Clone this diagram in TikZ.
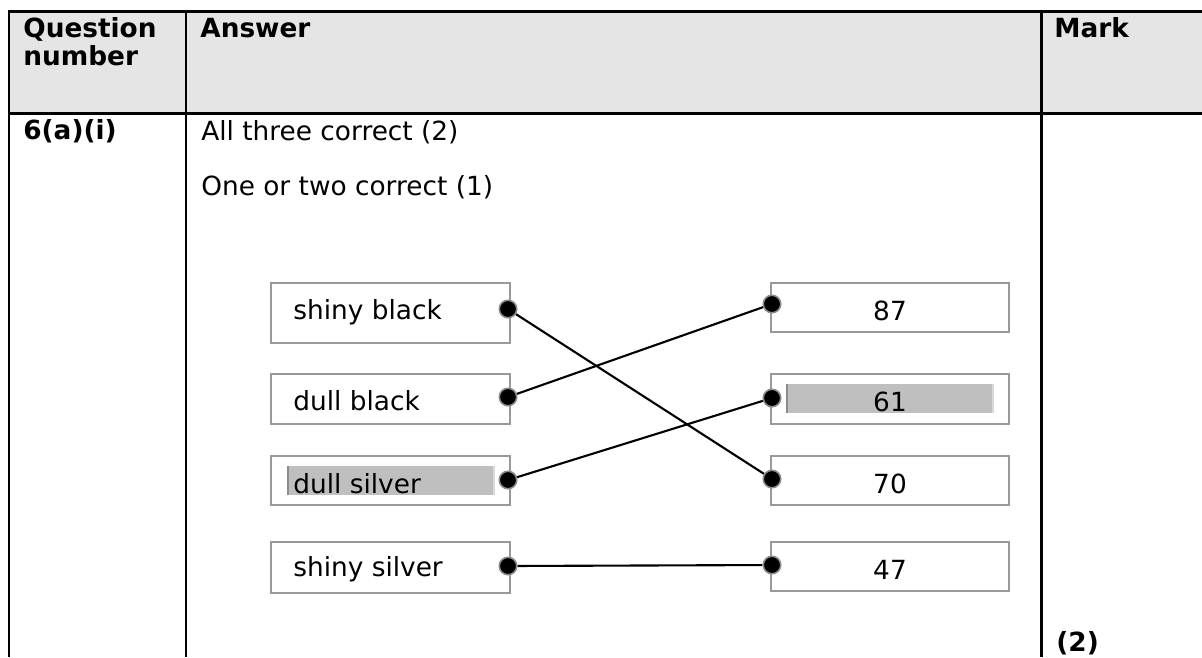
\documentclass[tikz,border=0pt]{standalone}
\usepackage{fontspec}
\setmainfont{DejaVu Sans}
\usetikzlibrary{positioning}
\colorlet{hdrfill}{black!10}
\colorlet{boxline}{black!40}
\colorlet{hlfill}{black!25}
\colorlet{hledge}{black!45}

\begin{document}
\begin{tikzpicture}[x=0.02cm,y=-0.02cm,
    txt/.style={font=\fontsize{15}{17}\selectfont, inner sep=0pt, anchor=base west},
    hd/.style={txt, font=\fontsize{15}{17}\selectfont\bfseries},
    num/.style={txt, anchor=base},
    rule/.style={line width=1.7pt},
    choice/.style={draw=boxline, line width=1.1pt, inner sep=0pt},
    dot/.style={circle, fill=black, draw=black!45, line width=0.9pt,
        minimum size=0.35cm, inner sep=0pt},
    link/.style={line width=1.2pt}
]
    \useasboundingbox (0,0) rectangle (1202,657);

    \fill[hdrfill] (9,11) rectangle (1202,113);
    \draw[rule] (1202,11) -- (9,11) -- (9,657);
    \draw[rule] (9,113) -- (1202,113);
    \draw[rule] (186,11) -- (186,657);
    \draw[rule] (1041,11) -- (1041,657);

    \node[hd] (qhead) at (23,37) {Question};
    \node[hd] (qhead2) at (23,65) {number};
    \node[hd] (ahead) at (200,37) {Answer};
    \node[hd] (mhead) at (1054,37) {Mark};
    \node[hd] (qno) at (23,139) {6(a)(i)};
    \node[txt] (rule1) at (201,140) {All three correct (2)};
    \node[txt] (rule2) at (201,195) {One or two correct (1)};
    \node[hd] (mark) at (1056,651) {(2)};

    \node[choice, minimum width=4.78cm, minimum height=1.2cm] (sbbox) at (390.5,313) {};
    \node[choice, minimum width=4.78cm, minimum height=1.0cm] (dbbox) at (390.5,399) {};
    \node[choice, minimum width=4.78cm, minimum height=0.98cm] (dsbox) at (390.5,480.5) {};
    \node[choice, minimum width=4.78cm, minimum height=1.02cm] (ssbox) at (390.5,567.5) {};

    \node[choice, minimum width=4.76cm, minimum height=0.98cm] (b87) at (890,307.5) {};
    \node[choice, minimum width=4.76cm, minimum height=1.0cm] (b61) at (890,399) {};
    \node[choice, minimum width=4.76cm, minimum height=0.98cm] (b70) at (890,480.5) {};
    \node[choice, minimum width=4.76cm, minimum height=0.98cm] (b47) at (890,566.5) {};

    \fill[hlfill] (287,466) rectangle (495,495);
    \draw[hledge, line width=0.9pt] (288,466) -- (288,495);
    \draw[black!15, line width=0.9pt] (494,466) -- (494,495);
    \fill[hlfill] (786,384) rectangle (994,413);
    \draw[hledge, line width=0.9pt] (787,384) -- (787,413);
    \draw[black!15, line width=0.9pt] (993,384) -- (993,413);

    \node[txt] (sbtext) at (293,319) {shiny black};
    \node[txt] (dbtext) at (293,410) {dull black};
    \node[txt] (dstext) at (293,493) {dull silver};
    \node[txt] (sstext) at (293,576) {shiny silver};

    \node[num] (t87) at (890,320) {87};
    \node[num] (t61) at (890,411) {61};
    \node[num] (t70) at (890,493) {70};
    \node[num] (t47) at (890,579) {47};

    \node[dot] (sbdot) at (508,309) {};
    \node[dot] (dbdot) at (508,397) {};
    \node[dot] (dsdot) at (508,480) {};
    \node[dot] (ssdot) at (508,566) {};
    \node[dot] (d87) at (772,304) {};
    \node[dot] (d61) at (772,398) {};
    \node[dot] (d70) at (772,479) {};
    \node[dot] (d47) at (772,565) {};

    \draw[link] (sbdot) -- (d70);
    \draw[link] (dbdot) -- (d87);
    \draw[link] (dsdot) -- (d61);
    \draw[link] (ssdot) -- (d47);
\end{tikzpicture}
\end{document}
